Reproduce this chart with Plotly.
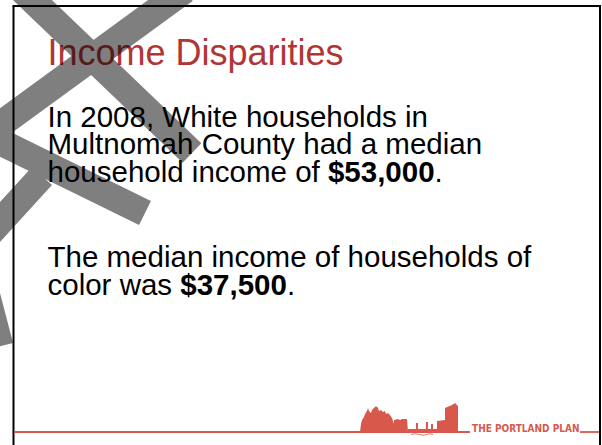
import plotly.graph_objects as go

# ---- slide content ----
title_text = ["Income Disparities"]
body_lines = [
    "In 2008, White households in",
    "Multnomah County had a median",
    "household income of <b>$53,000</b>.",
    "The median income of households of",
    "color was <b>$37,500</b>.",
]
body_baselines = [126.5, 154, 181.5, 266.7, 295]
title_baseline = [65]
logo_text = "THE PORTLAND PLAN"

W, H = 602, 445
TITLE_FS = 36
BODY_FS = 29.5
RED_TITLE = "#B03535"
RED_LOGO = "#D8584C"

fig = go.Figure()

# title and body as text marks (baseline = y + 0.25*fontsize for 'middle')
fig.add_trace(go.Scatter(
    x=[47.5] * len(title_text),
    y=[b - 0.25 * TITLE_FS for b in title_baseline],
    text=title_text, mode="text", textposition="middle right",
    textfont=dict(family="Liberation Sans, Arial, sans-serif", size=TITLE_FS, color=RED_TITLE),
    hoverinfo="skip", showlegend=False))
fig.add_trace(go.Scatter(
    x=[47.5] * len(body_lines),
    y=[b - 0.25 * BODY_FS for b in body_baselines],
    text=body_lines, mode="text", textposition="middle right",
    textfont=dict(family="Liberation Sans, Arial, sans-serif", size=BODY_FS, color="black"),
    hoverinfo="skip", showlegend=False))

# ---- gray strokes (decorative), one path so overlaps are not doubled ----
strokes = [
    ((22, -10), (192, 153), 27),       # top-left -> lower right
    ((184.7, -10), (-30, 146.8), 27),  # top-right -> left edge
    ((-30, 127), (145, 213), 27),      # left edge -> lower right
    ((42, 176), (-30, 255), 27),       # short stroke to left edge
    ((-51, 153), (-0.5, 346.5), 28),   # wedge near the bottom-left
]

def stroke_poly(p0, p1, w):
    (x0, y0), (x1, y1) = p0, p1
    dx, dy = x1 - x0, y1 - y0
    L = (dx * dx + dy * dy) ** 0.5
    nx, ny = -dy / L * w / 2, dx / L * w / 2
    pts = [(x0 + nx, y0 + ny), (x1 + nx, y1 + ny), (x1 - nx, y1 - ny), (x0 - nx, y0 - ny)]
    area = sum(pts[i][0] * pts[(i + 1) % 4][1] - pts[(i + 1) % 4][0] * pts[i][1] for i in range(4))
    if area < 0:
        pts = pts[::-1]
    return "M" + " L".join(f"{px:.2f},{py:.2f}" for px, py in pts) + " Z"

gray_path = " ".join(stroke_poly(*s) for s in strokes)
fig.add_shape(type="path", path=gray_path, xref="x", yref="y",
              fillcolor="rgba(0,0,0,0.5)", line=dict(width=0), fillrule="nonzero", layer="above")

# ---- frame ----
frame_color = "black"
fig.add_shape(type="line", x0=13.5, x1=13.5, y0=6, y1=H, xref="x", yref="y", line=dict(color=frame_color, width=2))
fig.add_shape(type="line", x0=12.5, x1=601, y0=6, y1=6, xref="x", yref="y", line=dict(color=frame_color, width=2))
fig.add_shape(type="line", x0=600, x1=600, y0=6, y1=H, xref="x", yref="y", line=dict(color=frame_color, width=2))

# ---- footer rule and logo ----
fig.add_shape(type="line", x0=14, x1=470, y0=432, y1=432, xref="x", yref="y", line=dict(color=RED_LOGO, width=1.8))
fig.add_shape(type="line", x0=580, x1=599, y0=432, y1=432, xref="x", yref="y", line=dict(color=RED_LOGO, width=1.8))

skyline = [
    [(360, 432), (361, 424), (362, 420), (364, 417), (365, 414), (367, 411), (368, 408), (369, 411), (371, 413),
     (372, 410), (374, 408), (376, 406), (378, 408), (379, 411), (381, 410), (383, 412), (385, 411), (386, 414),
     (388, 413), (390, 415), (392, 418), (393, 421), (394, 424), (395, 432)],
    [(394, 432), (394, 420), (398, 419), (400, 420), (402, 419), (407, 419), (408, 432)],
    [(408, 432), (408, 429), (438, 429), (438, 432)],
    [(416, 432), (416, 423), (418, 423), (418, 432)],
    [(426, 432), (426, 422), (428, 422), (428, 432)],
    [(431, 432), (431, 424), (433, 424), (433, 432)],
    [(437, 432), (437, 421), (445, 420), (445, 408), (452, 405), (455, 403), (458, 406), (458, 432)],
]
for poly in skyline:
    p = "M" + " L".join(f"{a},{b}" for a, b in poly) + " Z"
    fig.add_shape(type="path", path=p, xref="x", yref="y", fillcolor=RED_LOGO, line=dict(width=0))
fig.add_shape(type="path", path="M411,434.5 Q415,433 419,434.5 Q423,436 427,434.5 Q430,433 433,434.5",
              xref="x", yref="y", line=dict(color=RED_LOGO, width=0.8))

fig.add_annotation(x=525, y=428, xref="x", yref="y", text=f"<b>{logo_text}</b>", showarrow=False,
                   font=dict(family="Liberation Sans Narrow, DejaVu Sans Condensed, sans-serif", size=10, color=RED_LOGO),
                   xanchor="center", yanchor="middle")

fig.update_layout(
    width=W, height=H, margin=dict(l=0, r=0, t=0, b=0),
    paper_bgcolor="white", plot_bgcolor="white", showlegend=False,
    xaxis=dict(range=[0, W], visible=False, fixedrange=True),
    yaxis=dict(range=[H, 0], visible=False, fixedrange=True),
)

fig.write_html("out.html", config={"displayModeBar": False, "staticPlot": True},
               post_script="document.body.style.margin='0';document.body.style.overflow='hidden';")
